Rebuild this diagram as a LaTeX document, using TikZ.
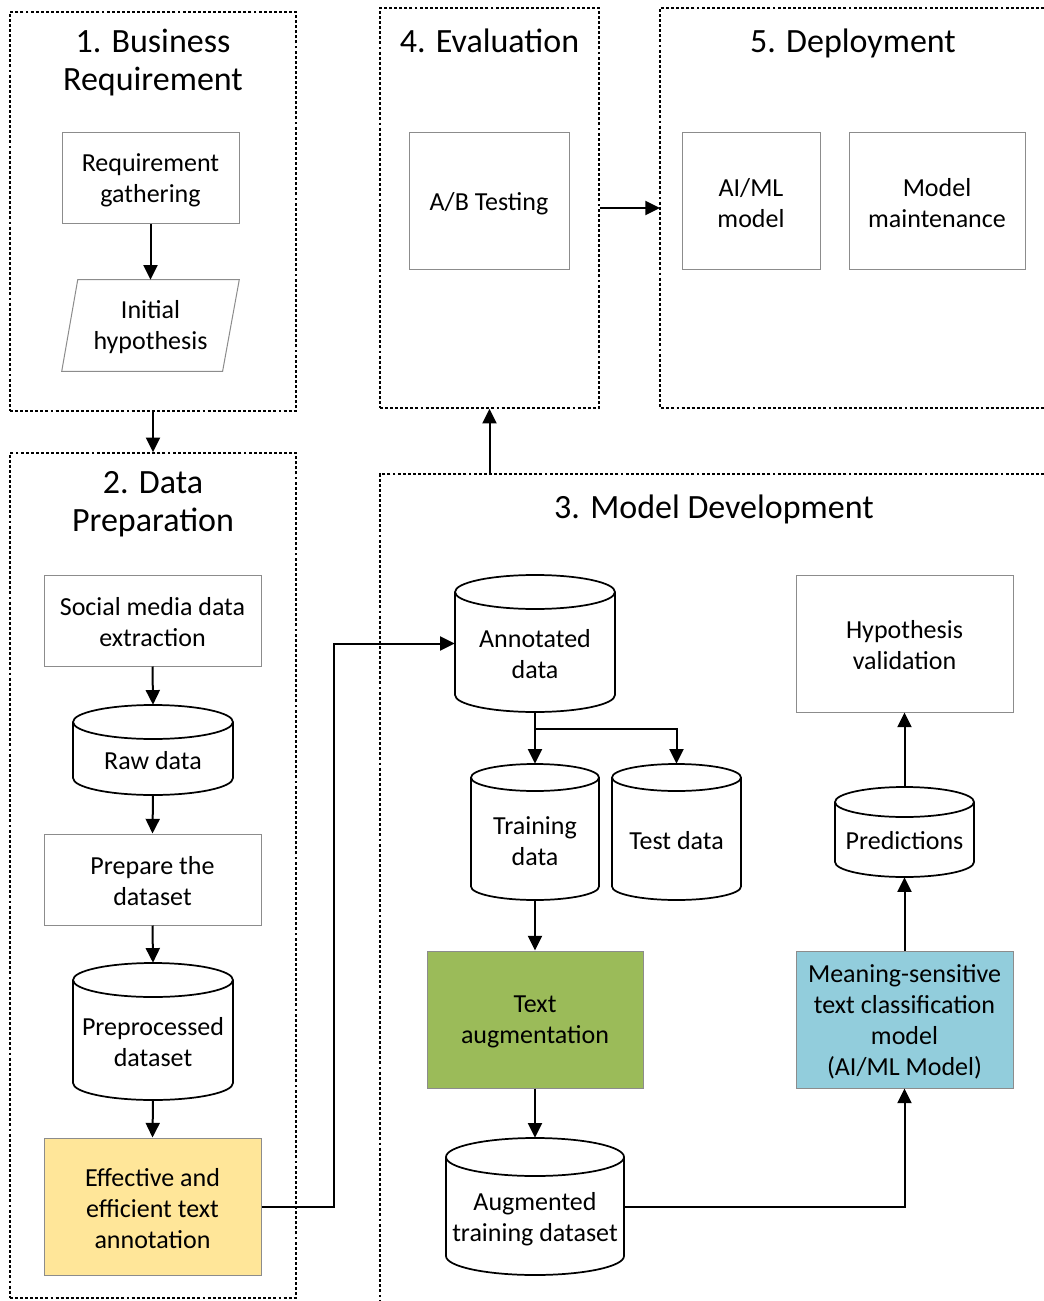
\documentclass[tikz,border=0pt]{standalone}
\usepackage{fontspec}
\setmainfont{Carlito}
\usetikzlibrary{arrows.meta,calc}

\definecolor{boxgray}{HTML}{8C8C8C}
\definecolor{annoyellow}{HTML}{FFE699}
\definecolor{auggreen}{HTML}{9BBB59}
\definecolor{modelblue}{HTML}{92CDDC}

\newcommand\boxfont{\fontsize{19.5pt}{23.25pt}\selectfont}
\newcommand\titlefont{\fontsize{25.5pt}{28.5pt}\selectfont}

% process box given by its corner coordinates (x1,y1)-(x2,y2), y measured downwards
\newcommand\pxbox[7][]{%
  \node[proc,#1,minimum width={(#5-#3)*0.75pt},minimum height={(#6-#4)*0.75pt}]
    (#2) at ({(#3+#5)/2},{-(#4+#6)/2}) {};
  \node[dblabel] at ($(#2.center)+(0,-2)$) {#7};}

% database cylinder: name, x1, y1, x2, y2, ellipse half-height, label shift, label
\newcommand\pxcyl[8]{%
  \node[inner sep=0pt,minimum width={(#4-#2)*0.75pt},minimum height={(#5-#3)*0.75pt}]
    (#1) at ({(#2+#4)/2},{-(#3+#5)/2}) {};
  \draw[dbline] ({#2},{-(#3)-(#6)}) -- ({#2},{-(#5)+(#6)})
    arc[start angle=180,end angle=360,x radius={(#4-#2)/2},y radius={#6}]
    -- ({#4},{-(#3)-(#6)});
  \draw[dbline] ({(#2+#4)/2},{-(#3)-(#6)}) ellipse[x radius={(#4-#2)/2},y radius={#6}];
  \node[dblabel] at ($(#1.center)+(0,-#7)$) {#8};}

\begin{document}
\begin{tikzpicture}[x=0.75pt,y=0.75pt,
  proc/.style={draw=boxgray,line width=0.75pt,fill=white,inner sep=0pt},
  dbline/.style={draw=black,line width=1.3pt},
  dblabel/.style={align=center,inner sep=0pt,font=\boxfont},
  frame/.style={draw=black,line width=1.1pt,dash pattern=on 2.2pt off 1.6pt},
  title/.style={align=center,inner sep=0pt,font=\titlefont},
  conn/.style={draw=black,line width=1.5pt,-{Triangle[length=11pt,width=10.5pt]}}]

\useasboundingbox (0,0) rectangle (1044,-1301);
\fill[white] (0,0) rectangle (1044,-1301);
\clip (0,0) rectangle (1044,-1301);

% ---------- stage frames ----------
\node[frame,minimum width={286*0.75pt},minimum height={399*0.75pt}] (f1) at (153,-211.5) {};
\node[frame,minimum width={286*0.75pt},minimum height={845*0.75pt}] (f2) at (153,-875.5) {};
\node[frame,minimum width={219*0.75pt},minimum height={400*0.75pt}] (f4) at (489.5,-208) {};
\coordinate (f5w) at (660,-208);
\draw[frame] (1044,-8) -- (660,-8) -- (660,-408) -- (1044,-408);
\coordinate (f3n) at (489.5,-474);
\draw[frame] (1044,-474) -- (380,-474) -- (380,-1301);

\node[title] (t1) at (153,-63) {1. Business\\Requirement};
\node[title] (t2) at (153,-504.5) {2. Data\\Preparation};
\node[title] (t4) at (489.5,-40.5) {4. Evaluation};
\node[title] (t5) at (853,-43) {5. Deployment};
\node[title] (t3) at (714,-509) {3. Model Development};

% ---------- 1. Business requirement ----------
\pxbox{reqg}{62}{133}{239}{224}{Requirement\\gathering}
\node[inner sep=0pt,minimum width={177*0.75pt},minimum height={91*0.75pt}] (init) at (150.5,-325.5) {};
\draw[draw=boxgray,line width=0.75pt,fill=white]
  ([xshift=12pt]init.north west) -- (init.north east)
  -- ([xshift=-12.5pt]init.south east) -- (init.south west) -- cycle;
\node[dblabel] at ($(init.center)+(0,-2)$) {Initial\\hypothesis};

% ---------- 2. Data preparation ----------
\pxbox{social}{44}{575}{261}{666}{Social media data\\extraction}
\pxcyl{raw}{73}{705}{233}{795}{17}{11}{Raw data}
\pxbox{prep}{44}{834}{261}{925}{Prepare the\\dataset}
\pxcyl{pre}{73}{963}{233}{1100}{17}{11}{Preprocessed\\dataset}
\pxbox[fill=annoyellow]{eff}{44}{1138}{261}{1275}{Effective and\\efficient text\\annotation}

% ---------- 4. Evaluation / 5. Deployment ----------
\pxbox{abt}{409}{133}{569}{270}{A/B Testing}
\pxbox{aiml}{682}{133}{820}{270}{AI/ML\\model}
\pxbox{maint}{849}{133}{1025}{270}{Model\\maintenance}

% ---------- 3. Model development ----------
\pxcyl{ann}{455}{575}{615}{712}{17}{11}{Annotated\\data}
\pxcyl{train}{471}{764}{599}{900}{13.5}{9}{Training\\data}
\pxcyl{test}{612}{764}{741}{900}{13.5}{9}{Test data}
\pxbox[fill=auggreen]{taug}{427}{951}{643}{1088}{Text\\augmentation}
\pxcyl{augds}{446}{1138}{624}{1275}{19}{13}{Augmented\\training dataset}
\pxbox[fill=modelblue]{msm}{796}{951}{1013}{1088}{Meaning-sensitive\\text classification\\model\\(AI/ML Model)}
\pxcyl{pred}{835}{787}{974}{877}{15}{9}{Predictions}
\pxbox{hypv}{796}{575}{1013}{712}{Hypothesis\\validation}

% ---------- connectors ----------
\draw[conn] (reqg.south) -- (init.north);
\draw[conn] (f1.south) -- (f2.north);
\draw[conn] (social.south) -- (raw.north);
\draw[conn] (raw.south) -- (prep.north);
\draw[conn] (prep.south) -- (pre.north);
\draw[conn] (pre.south) -- (eff.north);
\draw[conn] (eff.east) -- ++(72,0) |- (ann.west);
\draw[conn] (ann.south) -- (train.north);
\draw[conn] ($(ann.south)+(0,-17)$) -| (test.north);
\draw[conn] (train.south) -- (taug.north);
\draw[conn] (taug.south) -- (augds.north);
\draw[conn] (augds.east) -| (msm.south);
\draw[conn] (msm.north) -- (pred.south);
\draw[conn] (pred.north) -- (hypv.south);
\draw[conn] (f3n) -- (f4.south);
\draw[conn] (f4.east) -- (f5w);
\end{tikzpicture}
\end{document}
